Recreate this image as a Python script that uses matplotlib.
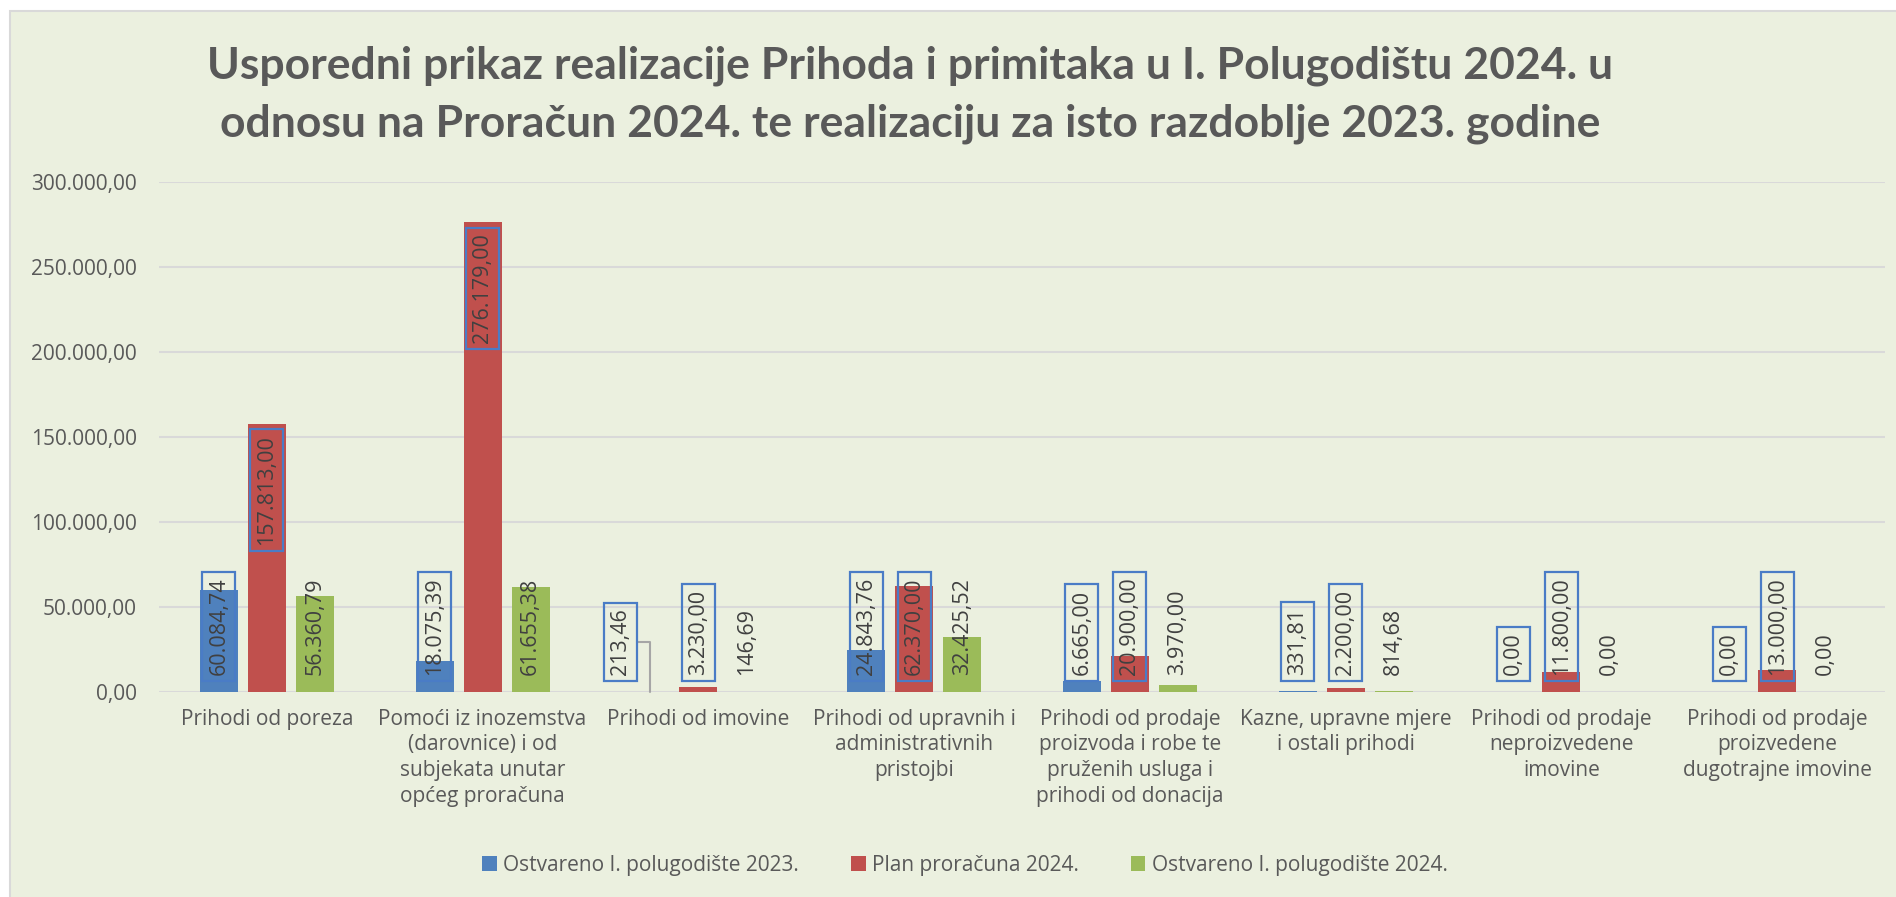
import matplotlib
matplotlib.use("Agg")
import matplotlib.pyplot as plt
from matplotlib.patches import Rectangle
import numpy as np

# Podaci
kategorije = [
    "Prihodi od poreza",
    "Pomoći iz inozemstva\n(darovnice) i od\nsubjekata unutar\nopćeg proračuna",
    "Prihodi od imovine",
    "Prihodi od upravnih i\nadministrativnih\npristojbi",
    "Prihodi od prodaje\nproizvoda i robe te\npruženih usluga i\nprihodi od donacija",
    "Kazne, upravne mjere\ni ostali prihodi",
    "Prihodi od prodaje\nneproizvedene\nimovine",
    "Prihodi od prodaje\nproizvedene\ndugotrajne imovine",
]
ostvareno_2023 = [60084.74, 18075.39, 213.46, 24843.76, 6665.00, 331.81, 0.00, 0.00]
plan_2024 = [157813.00, 276179.00, 3230.00, 62370.00, 20900.00, 2200.00, 11800.00, 13000.00]
ostvareno_2024 = [56360.79, 61655.38, 146.69, 32425.52, 3970.00, 814.68, 0.00, 0.00]
serije = ["Ostvareno I. polugodište 2023.", "Plan proračuna 2024.", "Ostvareno I. polugodište 2024."]

# Stil
W, H = 1896, 897
BG = '#EBF0DF'
BOJE = ['#4F81BD', '#C0504D', '#9BBB59']
OKVIR = '#4A7CC6'
SIVA = '#595959'
FONT = 'Open Sans'


def hr(v):
    return f"{v:,.2f}".replace(',', 'X').replace('.', ',').replace('X', '.')


fig = plt.figure(figsize=(W / 100, H / 100), dpi=100)
fig.patch.set_facecolor('white')
fig.add_artist(Rectangle((10 / W, -0.01), 1.0, (H - 11) / H + 0.01, transform=fig.transFigure,
                         facecolor=BG, edgecolor='#D9D9D9', lw=1.5, zorder=0))

ax = fig.add_axes([159 / W, (H - 692) / H, (1885 - 159) / W, (692 - 182) / H])
ax.patch.set_alpha(0)

x = np.arange(len(kategorije))
pomak = 0.2225
sirina = 0.176
vrijednosti = [ostvareno_2023, plan_2024, ostvareno_2024]

for i, (vals, boja) in enumerate(zip(vrijednosti, BOJE)):
    ax.bar(x + (i - 1) * pomak, vals, width=sirina, color=boja, zorder=2, label=serije[i])

# Oznake vrijednosti (serija 2023. i plan imaju okvir)
gore = {(0, 1), (1, 1)}  # (kategorija, serija) - oznaka na vrhu stupca
for i, vals in enumerate(vrijednosti):
    for j, v in enumerate(vals):
        xp = x[j] + (i - 1) * pomak
        bbox = None
        if i < 2:
            bbox = dict(boxstyle='square,pad=0.28', facecolor='none', edgecolor=OKVIR, lw=1.6)
        stil = dict(rotation=90, ha='center', fontsize=15.5, family=FONT, color='#404040',
                    bbox=bbox, zorder=4)
        if (j, i) in gore:
            ax.text(xp, v - 6500, hr(v), va='top', **stil)
        elif (j, i) == (2, 0):
            ax.annotate(hr(v), xy=(xp, v), xytext=(xp - 0.14, 9800), va='bottom',
                        arrowprops=dict(arrowstyle='-', color='#A6A6A6', lw=1.5,
                                        connectionstyle='angle,angleA=0,angleB=90,rad=0',
                                        shrinkA=0, shrinkB=0), **stil)
        else:
            ax.text(xp, 9800, hr(v), va='bottom', **stil)

ax.set_xlim(-0.5, len(kategorije) - 0.5)
ax.set_ylim(0, 300000)
ax.set_yticks(np.arange(0, 300001, 50000))
ax.set_yticklabels([hr(t) for t in np.arange(0, 300001, 50000)], family=FONT, fontsize=15, color=SIVA)
ax.set_xticks(x)
ax.set_xticklabels(kategorije, family=FONT, fontsize=15, color=SIVA, linespacing=1.3)
ax.tick_params(axis='both', length=0)
ax.tick_params(axis='y', pad=16)
ax.tick_params(axis='x', pad=12)
ax.set_axisbelow(True)
ax.grid(axis='y', color='#D9D9D9', lw=1.5, zorder=0)
for s in ax.spines.values():
    s.set_visible(False)

# Naslov
naslov = dict(ha='center', va='baseline', fontsize=32, fontweight='bold', family='Lato', color=SIVA)
fig.text(910 / W, 1 - 78 / H,
         "Usporedni prikaz realizacije Prihoda i primitaka u I. Polugodištu 2024. u", **naslov)
fig.text(910 / W, 1 - 136 / H,
         "odnosu na Proračun 2024. te realizaciju za isto razdoblje 2023. godine", **naslov)

# Legenda
fig.legend(loc='center', bbox_to_anchor=(965 / W, 1 - 865 / H), ncol=3, frameon=False,
           prop={'family': FONT, 'size': 15}, handlelength=0.7, handleheight=0.7,
           handletextpad=0.3, columnspacing=2.5, labelcolor=SIVA)

fig.savefig('out.png', dpi=100, facecolor='white')
